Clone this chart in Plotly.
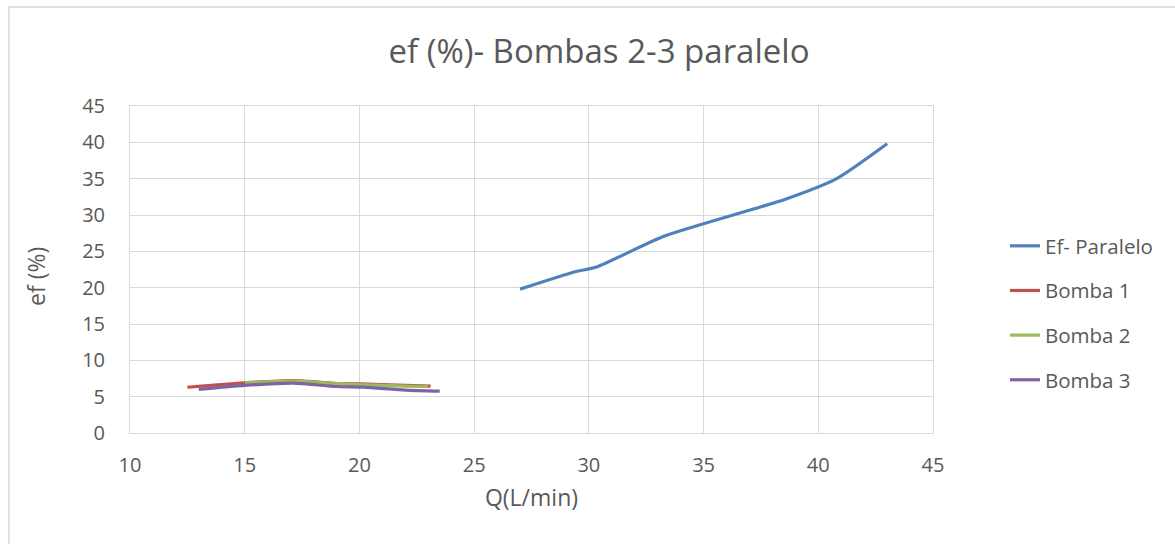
import plotly.graph_objects as go

# Caudal Q (L/min) y eficiencia (%) por serie
q_paralelo = [27.0, 29.4, 30.3, 33.3, 38.6, 40.8, 43.0]
ef_paralelo = [19.8, 22.2, 22.8, 27.1, 32.2, 35.0, 39.8]

q_bomba1 = [12.5, 15.0, 17.2, 19.0, 20.0, 22.0, 23.1]
ef_bomba1 = [6.3, 6.9, 7.2, 6.8, 6.75, 6.55, 6.45]

q_bomba2 = [15.0, 17.2, 19.2, 20.0, 22.0, 23.0]
ef_bomba2 = [6.9, 7.15, 6.75, 6.65, 6.45, 6.4]

q_bomba3 = [13.0, 15.0, 17.1, 19.0, 20.2, 22.0, 23.5]
ef_bomba3 = [6.0, 6.55, 6.85, 6.4, 6.3, 5.9, 5.75]

x_ticks = [10, 15, 20, 25, 30, 35, 40, 45]
y_ticks = [0, 5, 10, 15, 20, 25, 30, 35, 40, 45]

series = [
    ("Ef- Paralelo", q_paralelo, ef_paralelo, "#4F81BD"),
    ("Bomba 1", q_bomba1, ef_bomba1, "#C0504D"),
    ("Bomba 2", q_bomba2, ef_bomba2, "#9BBB59"),
    ("Bomba 3", q_bomba3, ef_bomba3, "#8064A2"),
]

FONT = "Open Sans"
TXT = "#595959"
GRID = "#D9D9D9"

fig = go.Figure()
for name, xs, ys, color in series:
    fig.add_trace(go.Scatter(
        x=xs, y=ys, name=name, mode="lines", legendgroup=name,
        line=dict(color=color, width=3.2, shape="spline", smoothing=0.6),
    ))

W, H = 1175, 544
L, R, T, B = 130, 933, 106, 433
pw, ph = R - L, B - T

fig.update_layout(
    width=W, height=H,
    margin=dict(l=L, r=W - R, t=T, b=H - B),
    paper_bgcolor="white", plot_bgcolor="white",
    font=dict(family=FONT, color=TXT, size=20),
    title=dict(text="ef (%)- Bombas 2-3 paralelo", x=(599 - L) / pw, xref="paper",
               xanchor="center", y=1 - 51 / H, yanchor="middle",
               font=dict(family=FONT, size=33, color=TXT)),
    xaxis=dict(range=[10, 45], tickvals=x_ticks, showgrid=True, gridcolor=GRID,
               gridwidth=1, zeroline=False, showline=True, linecolor=GRID,
               mirror=True, ticks="", ticklabelstandoff=14,
               tickfont=dict(size=20, color=TXT),
               title=dict(text="Q(L/min)", font=dict(size=23, color=TXT), standoff=12)),
    yaxis=dict(range=[0, 45], tickvals=y_ticks, showgrid=True, gridcolor=GRID,
               gridwidth=1, zeroline=False, showline=True, linecolor=GRID,
               mirror=True, ticks="", ticklabelstandoff=20,
               tickfont=dict(size=20, color=TXT)),
    legend=dict(x=(1005 - L) / pw, xanchor="left", y=(433 - 226) / ph, yanchor="top",
                font=dict(size=20.5, color=TXT), tracegroupgap=15,
                bgcolor="rgba(0,0,0,0)"),
    showlegend=True,
)

# título del eje vertical
fig.add_annotation(text="ef (%)", xref="paper", yref="paper",
                   x=(36 - L) / pw, y=(B - 277) / ph, showarrow=False,
                   textangle=-90, font=dict(size=23, color=TXT),
                   xanchor="center", yanchor="middle")

# marco exterior del gráfico
fig.add_shape(type="rect", xref="paper", yref="paper",
              x0=(9 - L) / pw, x1=(1185 - L) / pw,
              y0=(B - 560) / ph, y1=(B - 7) / ph,
              line=dict(color=GRID, width=1.5), fillcolor="rgba(0,0,0,0)", layer="below")

fig.write_html("out.html")
